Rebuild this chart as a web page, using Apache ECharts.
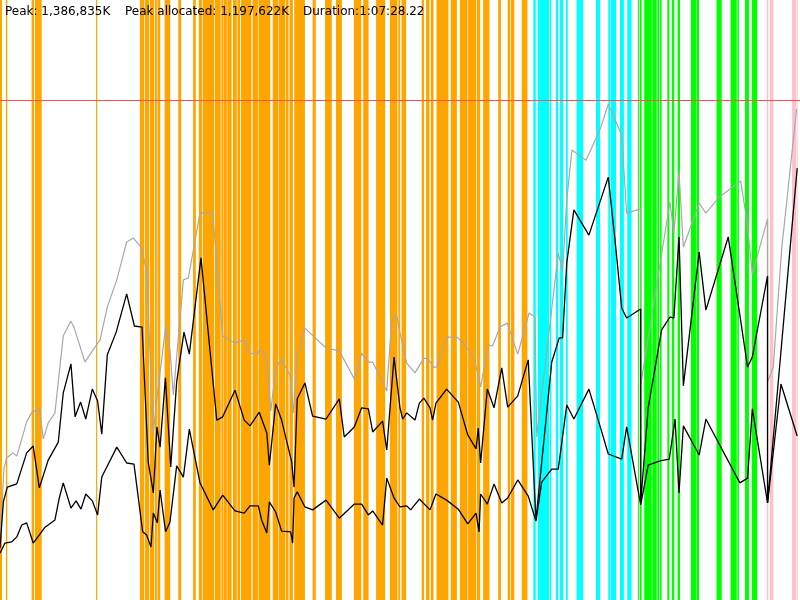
<!DOCTYPE html>
<html>
<head>
<meta charset="utf-8">
<script src="https://cdn.jsdelivr.net/npm/echarts@6/dist/echarts.min.js"></script>
<style>html,body{margin:0;padding:0;background:#fff}#c{width:800px;height:600px}</style>
</head>
<body>
<div id="c"></div>
<script>
// Time in seconds, memory in MB (thousands of K)
const durationSec = 4048.22;
const durationText = "1:07:28.22";
const peakK = 1386835;
const peakAllocK = 1197622;
const yMaxMB = 1664.2;

// Heap size (gray)
const heapSize = [[0,153],[20,366],[34,394],[64,408],[85,399],[135,494],[160,519],[199,532],[219,447],[244,491],[278,519],[320,732],[358,774],[374,757],[430,660],[464,688],[506,721],[543,813],[591,888],[641,993],[675,1004],[717,976],[742,910],[776,463],[793,555],[838,757],[860,693],[877,569],[928,888],[953,893],[1012,1073],[1076,1076],[1127,732],[1189,713],[1236,721],[1265,685],[1302,682],[1316,696],[1350,671],[1370,524],[1397,646],[1425,668],[1467,624],[1484,519],[1504,680],[1543,754],[1650,699],[1717,691],[1793,613],[1830,685],[1864,660],[1886,660],[1957,580],[1982,774],[2007,791],[2024,741],[2058,657],[2100,630],[2145,671],[2167,668],[2193,646],[2210,646],[2260,729],[2314,729],[2370,696],[2404,660],[2432,591],[2471,707],[2493,705],[2530,757],[2567,768],[2620,682],[2677,796],[2707,785],[2716,452],[2825,962],[2847,913],[2868,1109],[2894,1248],[2965,1220],[3036,1304],[3078,1375],[3146,1290],[3171,1073],[3242,1085],[3242,596],[3390,1104],[3410,1018],[3436,1187],[3458,979],[3538,1101],[3572,1073],[3640,1118],[3748,1162],[3781,1046],[3807,904],[3884,1057],[3884,605],[3913,646],[3955,971],[4031,1362]];

// Allocated before collection (upper black)
const usedBefore = [[0,144],[17,272],[37,313],[85,322],[135,408],[168,427],[199,311],[244,388],[295,438],[320,574],[359,655],[380,508],[408,549],[434,502],[467,585],[494,552],[515,460],[543,680],[588,743],[641,849],[680,760],[719,757],[750,383],[776,297],[794,480],[810,424],[837,616],[864,369],[894,605],[931,743],[958,682],[1017,949],[1097,499],[1127,508],[1189,582],[1236,499],[1265,483],[1312,521],[1350,463],[1363,374],[1395,544],[1425,499],[1476,383],[1488,313],[1504,558],[1543,602],[1582,510],[1650,502],[1717,558],[1742,452],[1793,480],[1830,533],[1864,530],[1886,466],[1936,496],[1957,416],[1994,674],[2024,533],[2038,502],[2058,519],[2100,499],[2122,546],[2145,560],[2176,533],[2189,499],[2206,546],[2260,585],[2319,549],[2367,458],[2409,419],[2420,477],[2432,380],[2466,585],[2500,533],[2539,644],[2569,535],[2620,566],[2673,666],[2712,222],[2792,660],[2830,727],[2847,727],[2868,935],[2904,1082],[2980,1012],[3078,1173],[3112,999],[3146,810],[3171,782],[3242,807],[3242,269],[3280,533],[3348,749],[3390,785],[3410,782],[3436,1007],[3458,594],[3538,965],[3572,804],[3685,1007],[3783,646],[3807,674],[3884,899],[3884,269],[4034,1198]];

// Allocated after collection (lower black)
const usedAfter = [[0,130],[25,158],[59,161],[85,175],[110,208],[135,214],[168,158],[202,183],[228,202],[278,222],[300,283],[320,325],[359,255],[385,275],[410,252],[434,294],[467,275],[494,236],[515,341],[591,424],[641,380],[678,377],[722,189],[742,180],[764,147],[776,241],[796,214],[810,305],[838,189],[860,216],[894,372],[928,341],[958,474],[1012,325],[1079,250],[1127,291],[1189,247],[1236,241],[1265,261],[1307,261],[1324,222],[1350,186],[1363,272],[1395,244],[1425,191],[1471,189],[1481,158],[1488,283],[1504,300],[1543,258],[1582,250],[1650,277],[1717,227],[1793,266],[1830,266],[1864,236],[1886,247],[1936,208],[1957,338],[1994,283],[2024,258],[2058,261],[2078,250],[2122,280],[2176,250],[2206,294],[2260,277],[2319,252],[2367,211],[2409,241],[2424,189],[2432,294],[2466,266],[2500,322],[2539,269],[2569,283],[2620,333],[2673,288],[2712,219],[2741,327],[2792,363],[2825,363],[2868,541],[2904,502],[2980,585],[3036,483],[3078,405],[3146,391],[3171,480],[3242,264],[3280,374],[3340,386],[3387,391],[3416,502],[3436,297],[3458,483],[3538,402],[3572,502],[3744,325],[3783,338],[3807,530],[3884,269],[3952,599],[4034,455]];

// GC event intervals [start, end] in seconds
const gcOrange = [[0,10],[30,37],[160,172],[177,211],[486,492],[708,730],[734,755],[759,780],[784,794],[797,811],[833,861],[902,917],[977,991],[1006,1022],[1026,1083],[1087,1117],[1120,1131],[1133,1148],[1150,1172],[1179,1198],[1201,1215],[1220,1272],[1278,1305],[1308,1368],[1380,1409],[1412,1443],[1446,1460],[1465,1482],[1489,1543],[1582,1598],[1645,1679],[1700,1730],[1791,1828],[1838,1865],[1903,1949],[1973,2011],[2016,2025],[2032,2055],[2134,2146],[2156,2173],[2180,2194],[2209,2269],[2281,2312],[2327,2366],[2369,2410],[2414,2430],[2445,2477],[2521,2535],[2569,2582],[2586,2603],[2640,2669]];
const gcCyan = [[2699,2711],[2721,2779],[2783,2790],[2813,2825],[2834,2850],[2864,2873],[2918,2951],[3016,3036],[3078,3087],[3090,3117],[3137,3157],[3174,3196]];
const gcGreen = [[3228,3233],[3238,3247],[3260,3298],[3301,3323],[3326,3336],[3340,3348],[3377,3387],[3400,3412],[3429,3441],[3496,3522],[3525,3538],[3626,3652],[3697,3728],[3731,3739],[3770,3790],[3804,3832]];
const gcPink = [[3880,3888],[3896,3913],[4008,4028],[4031,4036]];

function fmt(n){return n.toString().replace(/\B(?=(\d{3})+(?!\d))/g, ',');}

const chart = echarts.init(document.getElementById('c'), null, {renderer:'canvas'});

function gcSeries(name, data, color){
  return {
    type:'custom', name:name, silent:true, z:1,
    data:data,
    encode:{x:[0,1]},
    renderItem:function(params, api){
      const a = api.coord([api.value(0), yMaxMB]);
      const b = api.coord([api.value(1), 0]);
      const w = Math.max(1, b[0]-a[0]);
      return {type:'rect', shape:{x:a[0], y:a[1], width:w, height:b[1]-a[1]}, style:{fill:color}};
    }
  };
}

chart.setOption({
  animation:false,
  backgroundColor:'#ffffff',
  grid:{left:0,right:0,top:0,bottom:0},
  xAxis:{type:'value',min:0,max:durationSec,show:false},
  yAxis:{type:'value',min:0,max:yMaxMB,show:false},
  graphic:[
    {type:'text',left:5,top:6,z:100,style:{text:'Peak: '+fmt(peakK)+'K',font:'12px "DejaVu Sans"',fill:'#000'}},
    {type:'text',left:125,top:6,z:100,style:{text:'Peak allocated: '+fmt(peakAllocK)+'K',font:'12px "DejaVu Sans"',fill:'#000'}},
    {type:'text',left:303,top:6,z:100,style:{text:'Duration:'+durationText,font:'12px "DejaVu Sans"',fill:'#000'}}
  ],
  series:[
    gcSeries('young', gcOrange, '#ffa500'),
    gcSeries('cms', gcCyan, '#00ffff'),
    gcSeries('g1', gcGreen, '#00ff00'),
    gcSeries('full', gcPink, '#ffc0cb'),
    {type:'line',name:'heap',data:heapSize,showSymbol:false,symbol:'none',z:5,
     lineStyle:{color:'#a8a8a8',width:1.2},
     markLine:{silent:true,symbol:'none',label:{show:false},lineStyle:{color:'#ff5050',width:1,type:'solid'},data:[{yAxis:peakK/1000}]}},
    {type:'line',name:'before',data:usedBefore,showSymbol:false,symbol:'none',z:6,lineStyle:{color:'#000',width:1.3}},
    {type:'line',name:'after',data:usedAfter,showSymbol:false,symbol:'none',z:6,lineStyle:{color:'#000',width:1.3}}
  ]
});
</script>
</body>
</html>
